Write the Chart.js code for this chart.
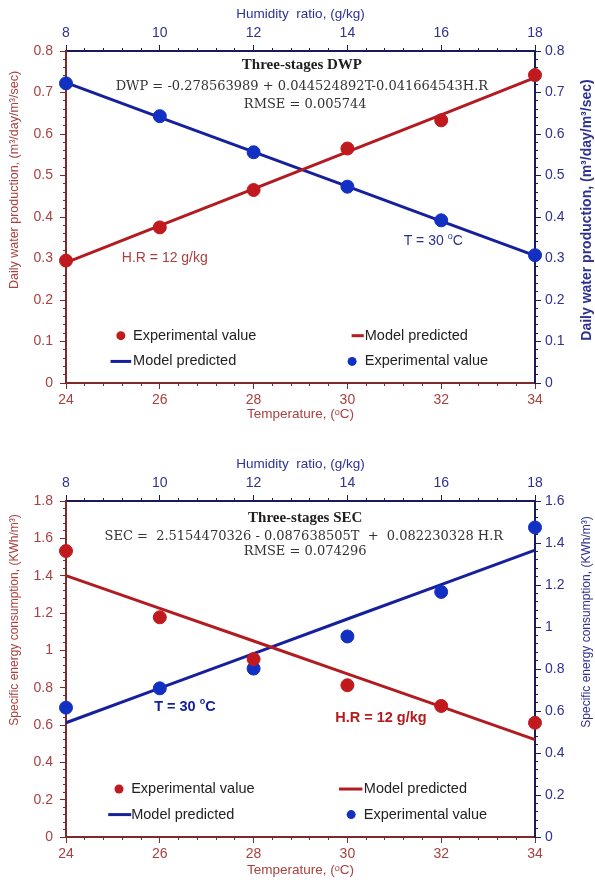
<!DOCTYPE html>
<html>
<head>
<meta charset="utf-8">
<script src="https://cdn.jsdelivr.net/npm/chart.js@4.4.1/dist/chart.umd.min.js"></script>
<style>
  html, body { margin: 0; padding: 0; background: #fff; }
  #wrap { position: relative; width: 595px; height: 887px; }
  canvas { position: absolute; left: 0; }
</style>
</head>
<body>
<div id="wrap">
  <canvas id="dwpChart" width="595" height="440" style="top:0"></canvas>
  <canvas id="secChart" width="595" height="447" style="top:440px"></canvas>
</div>
<script>
// values
const temperature = [24, 26, 28, 30, 32, 34];
const humidityRatio = [8, 10, 12, 14, 16, 18];

// three-stages DWP, m3/day/m3/sec
const dwpExpTemp = [0.295, 0.375, 0.465, 0.565, 0.633, 0.742];
const dwpModelTemp = [0.290, 0.379, 0.468, 0.557, 0.646, 0.736];
const dwpModelHum = [0.724, 0.640, 0.557, 0.474, 0.390, 0.307];
const dwpExpHum = [0.722, 0.643, 0.556, 0.473, 0.392, 0.308];

// three-stages SEC, kWh/m3
const secExpTemp = [1.532, 1.177, 0.953, 0.813, 0.702, 0.612];
const secModelTemp = [1.400, 1.225, 1.050, 0.874, 0.698, 0.522];
const secModelHum = [0.544, 0.709, 0.873, 1.038, 1.202, 1.366];
const secExpHum = [0.616, 0.708, 0.802, 0.955, 1.167, 1.474];

// axis ranges and tick steps
const tempAxis = { min: 24, max: 34, step: 2, minor: 0.4 };
const humAxis = { min: 8, max: 18, step: 2, minor: 0.4 };
const dwpAxis = { min: 0, max: 0.8, step: 0.1, minor: 0.02 };
const secLeftAxis = { min: 0, max: 1.8, step: 0.2, minor: 0.04 };
const secRightAxis = { min: 0, max: 1.6, step: 0.2, minor: 0.04 };

const RED = '#c01a1f';
const RED_LINE = '#b21c20';
const BLUE = '#1231c2';
const BLUE_LINE = '#16209c';
const RED_TEXT = '#a8413f';
const BLUE_TEXT = '#2e3192';
const RED_AXIS = '#7e2a2a';
const BLUE_AXIS = '#191a5c';
const SANS = "'Liberation Sans', Arial, sans-serif";

function pts(xs, ys) {
  return xs.map((x, i) => ({ x: x, y: ys[i] }));
}

function tickList(r, step) {
  const n = Math.round((r.max - r.min) / step);
  const t = [];
  for (let i = 0; i <= n; i++) t.push({ value: +(r.min + i * step).toFixed(4) });
  return t;
}

function mainScale(pos, r, textColor, lineColor, size, pad, title) {
  return {
    type: 'linear', position: pos, min: r.min, max: r.max, weight: 1,
    afterBuildTicks: s => { s.ticks = tickList(r, r.step); },
    afterFit: s => { if (s.isHorizontal()) s.height = size; else s.width = size; },
    ticks: {
      color: textColor, padding: pad, maxRotation: 0, autoSkip: false,
      font: { family: SANS, size: 14 },
      callback: v => String(+Number(v).toFixed(2))
    },
    grid: { drawOnChartArea: false, drawTicks: true, tickLength: 6, color: lineColor, tickColor: lineColor, lineWidth: 1 },
    border: { display: true, color: lineColor, width: 2 },
    title: title || { display: false }
  };
}

function minorScale(pos, r, lineColor) {
  return {
    type: 'linear', position: pos, min: r.min, max: r.max, weight: 0,
    afterBuildTicks: s => { s.ticks = tickList(r, r.minor); },
    afterFit: s => { if (s.isHorizontal()) s.height = 0; else s.width = 0; },
    ticks: { display: false, autoSkip: false },
    grid: { drawOnChartArea: false, drawTicks: true, tickLength: 3, color: lineColor, tickColor: lineColor, lineWidth: 1 },
    border: { display: false }
  };
}

function makeDatasets(expT, modT, modH, expH) {
  return [
    { label: 'Experimental value', data: pts(temperature, expT), xAxisID: 'x', yAxisID: 'y',
      showLine: false, pointRadius: 6.5, pointBackgroundColor: RED, pointBorderColor: RED, order: 0, clip: false },
    { label: 'Model predicted', data: pts(temperature, modT), xAxisID: 'x', yAxisID: 'y',
      showLine: true, borderColor: RED_LINE, borderWidth: 3, pointRadius: 0, order: 2, clip: false },
    { label: 'Model predicted', data: pts(humidityRatio, modH), xAxisID: 'x2', yAxisID: 'y2',
      showLine: true, borderColor: BLUE_LINE, borderWidth: 3, pointRadius: 0, order: 2, clip: false },
    { label: 'Experimental value', data: pts(humidityRatio, expH), xAxisID: 'x2', yAxisID: 'y2',
      showLine: false, pointRadius: 6.5, pointBackgroundColor: BLUE, pointBorderColor: BLUE, order: 0, clip: false }
  ];
}

// text drawn inside the plot: header, condition labels, legend, vertical titles
const notesPlugin = {
  id: 'notes',
  afterDatasetsDraw(chart, args, opts) {
    const ctx = chart.ctx;
    const sx = chart.scales.x, sy = chart.scales.y;
    ctx.save();
    ctx.textBaseline = 'middle';

    ctx.textAlign = 'center';
    opts.header.forEach(h => {
      ctx.font = h.font;
      ctx.fillStyle = h.color;
      ctx.fillText(h.text, sx.getPixelForValue(h.t), sy.getPixelForValue(h.v));
    });

    ctx.textAlign = 'left';
    opts.labels.forEach(l => {
      let x = sx.getPixelForValue(l.t);
      const y = sy.getPixelForValue(l.v);
      ctx.fillStyle = l.color;
      l.parts.forEach(p => {
        ctx.font = p.sup ? l.supFont : l.font;
        ctx.fillText(p.text, x, p.sup ? y - 5 : y);
        x += ctx.measureText(p.text).width;
      });
    });

    const ds = chart.data.datasets;
    opts.legend.forEach(it => {
      const d = ds[it.ds];
      const y = sy.getPixelForValue(it.v);
      if (d.showLine) {
        ctx.strokeStyle = d.borderColor;
        ctx.lineWidth = d.borderWidth;
        ctx.beginPath();
        ctx.moveTo(sx.getPixelForValue(it.t1), y);
        ctx.lineTo(sx.getPixelForValue(it.t2), y);
        ctx.stroke();
      } else {
        ctx.fillStyle = d.pointBackgroundColor;
        ctx.beginPath();
        ctx.arc(sx.getPixelForValue(it.t1), y, 4.5, 0, Math.PI * 2);
        ctx.fill();
      }
      ctx.font = opts.legendFont;
      ctx.fillStyle = '#222';
      ctx.fillText(d.label, sx.getPixelForValue(it.tx), y);
    });

    // both side titles read bottom to top
    opts.vtitles.forEach(v => {
      ctx.save();
      ctx.translate(v.x, v.y);
      ctx.rotate(-Math.PI / 2);
      ctx.font = v.font;
      ctx.fillStyle = v.color;
      ctx.textAlign = 'center';
      ctx.fillText(v.text, 0, 0);
      ctx.restore();
    });
    ctx.restore();
  }
};

function buildChart(id, datasets, yLeft, yRight, sizes, notes) {
  return new Chart(document.getElementById(id), {
    type: 'scatter',
    data: { datasets: datasets },
    options: {
      responsive: false,
      animation: false,
      devicePixelRatio: 1,
      layout: { padding: 0 },
      plugins: { legend: { display: false }, tooltip: { enabled: false }, notes: notes },
      scales: {
        xm: minorScale('bottom', tempAxis, RED_AXIS),
        x2m: minorScale('top', humAxis, BLUE_AXIS),
        ym: minorScale('left', yLeft, RED_AXIS),
        y2m: minorScale('right', yRight, BLUE_AXIS),
        x: mainScale('bottom', tempAxis, RED_TEXT, RED_AXIS, sizes.bottom, 3, {
          display: true, text: 'Temperature, (\u1D52C)', color: RED_TEXT,
          font: { family: SANS, size: 13.5 }, padding: { top: 0, bottom: sizes.bottomTitle }
        }),
        x2: mainScale('top', humAxis, BLUE_TEXT, BLUE_AXIS, sizes.top, 3, {
          display: true, text: 'Humidity  ratio, (g/kg)', color: BLUE_TEXT,
          font: { family: SANS, size: 13.5 }, padding: { top: sizes.topTitle, bottom: 0 }
        }),
        y: mainScale('left', yLeft, RED_TEXT, RED_AXIS, 66, 7),
        y2: mainScale('right', yRight, BLUE_TEXT, BLUE_AXIS, 60, 4)
      }
    },
    plugins: [notesPlugin]
  });
}

const deg = (pre, font, supFont, color, t, v) => ({
  t: t, v: v, color: color, font: font, supFont: supFont,
  parts: [{ text: pre }, { text: 'o', sup: true }, { text: 'C' }]
});

buildChart('dwpChart',
  makeDatasets(dwpExpTemp, dwpModelTemp, dwpModelHum, dwpExpHum),
  dwpAxis, dwpAxis,
  { top: 51, bottom: 57, topTitle: 6, bottomTitle: 18 },
  {
    header: [
      { text: 'Three-stages DWP', t: 29.03, v: 0.765, font: "bold 15px 'Liberation Serif', serif", color: '#1e1e1e' },
      { text: 'DWP = -0.278563989 + 0.044524892T-0.041664543H.R', t: 29.03, v: 0.713, font: "13px 'DejaVu Serif', serif", color: '#333' },
      { text: 'RMSE = 0.005744', t: 29.1, v: 0.671, font: "13px 'DejaVu Serif', serif", color: '#333' }
    ],
    labels: [
      { t: 25.19, v: 0.3, color: RED_TEXT, font: '14px ' + SANS, supFont: '9px ' + SANS,
        parts: [{ text: 'H.R = 12 g/kg' }] },
      deg('T = 30 ', '14px ' + SANS, '9px ' + SANS, BLUE_TEXT, 31.2, 0.341)
    ],
    legendFont: '14.5px ' + SANS,
    legend: [
      { ds: 0, t1: 25.17, tx: 25.43, v: 0.114 },
      { ds: 1, t1: 30.09, t2: 30.35, tx: 30.37, v: 0.114 },
      { ds: 2, t1: 24.95, t2: 25.39, tx: 25.43, v: 0.052 },
      { ds: 3, t1: 30.1, tx: 30.37, v: 0.052 }
    ],
    vtitles: [
      { text: 'Daily water production, (m\u00B3/day/m\u00B3/sec)', x: 15, y: 180, font: '12.5px ' + SANS, color: RED_TEXT },
      { text: 'Daily water production, (m\u00B3/day/m\u00B3/sec)', x: 587, y: 210, font: 'bold 14px ' + SANS, color: BLUE_TEXT }
    ]
  });

buildChart('secChart',
  makeDatasets(secExpTemp, secModelTemp, secModelHum, secExpHum),
  secLeftAxis, secRightAxis,
  { top: 61, bottom: 50, topTitle: 16, bottomTitle: 9 },
  {
    header: [
      { text: 'Three-stages SEC', t: 29.1, v: 1.706, font: "bold 15px 'Liberation Serif', serif", color: '#1e1e1e' },
      { text: 'SEC =  2.5154470326 - 0.087638505T  +  0.082230328 H.R', t: 29.07, v: 1.609, font: "13px 'DejaVu Serif', serif", color: '#333' },
      { text: 'RMSE = 0.074296', t: 29.1, v: 1.529, font: "13px 'DejaVu Serif', serif", color: '#333' }
    ],
    labels: [
      deg('T = 30 ', 'bold 14.5px ' + SANS, 'bold 9px ' + SANS, BLUE_LINE, 25.88, 0.699),
      { t: 29.74, v: 0.635, color: RED_LINE, font: 'bold 14.5px ' + SANS, supFont: '9px ' + SANS,
        parts: [{ text: 'H.R = 12 g/kg' }] }
    ],
    legendFont: '14.5px ' + SANS,
    legend: [
      { ds: 0, t1: 25.13, tx: 25.39, v: 0.257 },
      { ds: 1, t1: 29.82, t2: 30.32, tx: 30.35, v: 0.257 },
      { ds: 2, t1: 24.9, t2: 25.39, tx: 25.39, v: 0.12 },
      { ds: 3, t1: 30.08, tx: 30.35, v: 0.12 }
    ],
    vtitles: [
      { text: 'Specific energy consumption, (KWh/m\u00B3)', x: 15, y: 180, font: '12px ' + SANS, color: RED_TEXT },
      { text: 'Specific energy consumption, (KWh/m\u00B3)', x: 587, y: 182, font: '12px ' + SANS, color: BLUE_TEXT }
    ]
  });
</script>
</body>
</html>
